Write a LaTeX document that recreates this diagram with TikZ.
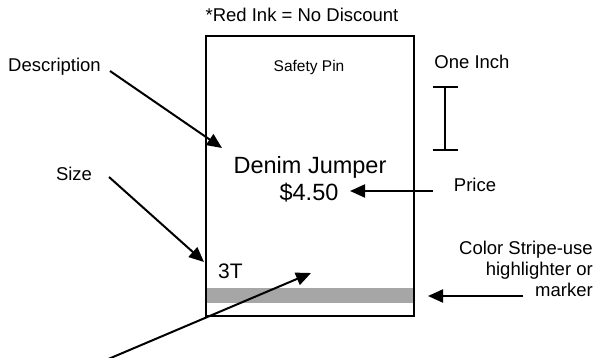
\documentclass[tikz,border=0pt]{standalone}
\usepackage{fontspec}
\setmainfont{Liberation Sans}
\usetikzlibrary{arrows.meta}
\begin{document}
\begin{tikzpicture}[x=1pt,y=-1pt,
  lbl/.style={inner sep=0pt, anchor=base, font=\fontsize{18.5}{21}\selectfont},
  arr/.style={line width=2pt, -{Triangle[length=15pt,width=13pt]}},
  tagbox/.style={draw, line width=2pt, inner sep=0pt, minimum width=208pt, minimum height=280pt}]
\useasboundingbox (0,0) rectangle (596,358);
\definecolor{stripegray}{HTML}{A6A6A6}
% tag
\node[tagbox] (tag) at (310,176) {};
\fill[stripegray] (207,288) rectangle (413,303);
% texts
\node[lbl] (note) at (302,22) {*Red Ink = No Discount};
\node[lbl, anchor=base west] (desc) at (8,72) {Description};
\node[lbl, font=\fontsize{15.5}{18}\selectfont] (pin) at (309,72) {Safety Pin};
\node[lbl] (inch) at (472,69) {One Inch};
\node[lbl, font=\fontsize{23.5}{26}\selectfont] (item) at (310,173) {Denim Jumper};
\node[lbl, font=\fontsize{23.5}{26}\selectfont] (price) at (309,200) {\$4.50};
\node[lbl] (pricelbl) at (475,191) {Price};
\node[lbl] (size) at (74,180) {Size};
\node[lbl, anchor=base west, font=\fontsize{21}{24}\selectfont] (sz) at (218,278) {3T};
\node[lbl, anchor=base east, align=right] (stripe) at (593,296) {Color Stripe-use\\highlighter or\\marker};
% one inch bar
\coordinate (bart) at (445,87);
\coordinate (barb) at (445,150);
\draw[line width=2pt] (bart) -- (barb);
\draw[line width=2pt] ([xshift=-12.5pt]bart) -- ([xshift=12.5pt]bart);
\draw[line width=2pt] ([xshift=-12.5pt]barb) -- ([xshift=12.5pt]barb);
% arrows
\coordinate (descS) at (110,71);
\coordinate (descE) at (222,148);
\draw[arr] (descS) -- (descE);
\coordinate (sizeS) at (109,177);
\coordinate (sizeE) at (204,262);
\draw[arr] (sizeS) -- (sizeE);
\coordinate (priceS) at (433,191);
\coordinate (priceE) at (350,191);
\draw[arr] (priceS) -- (priceE);
\coordinate (stripeS) at (523,296);
\coordinate (stripeE) at (428,296);
\draw[arr] (stripeS) -- (stripeE);
\coordinate (botS) at (106,360);
\coordinate (botE) at (311,273);
\draw[arr] (botS) -- (botE);
\end{tikzpicture}
\end{document}
